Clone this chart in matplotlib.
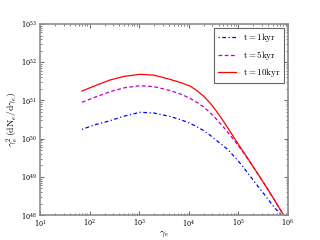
import matplotlib
matplotlib.use("Agg")
import matplotlib.pyplot as plt
import numpy as np

plt.rcParams['mathtext.fontset'] = 'cm'
plt.rcParams['font.family'] = 'serif'
plt.rcParams['font.serif'] = ['DejaVu Serif']

# log10(gamma_e) sample points
lg = [1.847, 2.1, 2.411, 2.7, 3.016, 3.3, 3.62, 3.85, 4.024, 4.15, 4.292, 4.43, 4.55,
      4.68, 4.796, 4.93, 5.067, 5.23, 5.401, 5.57, 5.738, 5.919]

# log10(gamma^2 dN/dgamma) for each age
lv_1kyr = [50.243, 50.36, 50.469, 50.59, 50.689, 50.67, 50.58, 50.49, 50.401, 50.32, 50.215, 50.09, 49.96,
           49.83, 49.702, 49.51, 49.309, 49.03, 48.741, 48.46, 48.175, 47.95]
lv_5kyr = [50.950, 51.08, 51.228, 51.33, 51.385, 51.36, 51.26, 51.16, 51.055, 50.96, 50.835, 50.68, 50.52,
           50.33, 50.15, 49.93, 49.70, 49.39, 49.06, 48.72, 48.37, 47.98]
lv_10kyr = [51.246, 51.38, 51.534, 51.63, 51.683, 51.66, 51.552, 51.46, 51.377, 51.27, 51.12, 50.93, 50.73,
            50.49, 50.26, 49.99, 49.72, 49.40, 49.06, 48.72, 48.37, 47.98]

labels = [r'$\mathrm{t=1kyr}$', r'$\mathrm{t=5kyr}$', r'$\mathrm{t=10kyr}$']

fig = plt.figure(figsize=(3.2, 2.4), dpi=100)
ax = fig.add_axes([0.125, 0.104, 0.775, 0.796])

g = 10**np.array(lg)
ax.plot(g, 10**np.array(lv_1kyr), color='b', ls=(0, (1, 2, 3, 2)), lw=0.9, label=labels[0])
ax.plot(g, 10**np.array(lv_5kyr), color='m', ls=(0, (3, 2)), lw=0.9, label=labels[1])
ax.plot(g, 10**np.array(lv_10kyr), color='r', ls='-', lw=0.9, label=labels[2])

ax.set_xscale('log')
ax.set_yscale('log')
ax.set_xlim(1e1, 1e6)
ax.set_ylim(1e48, 1e53)

for s in ax.spines.values():
    s.set_color('0.55')
    s.set_linewidth(1.2)

ax.tick_params(which='both', direction='in', top=True, right=True, labelsize=4.8, colors='0.3', labelcolor='black')
ax.tick_params(which='major', length=3, width=0.6, pad=2)
ax.tick_params(which='minor', length=1.5, width=0.5)

ax.set_xlabel(r'$\gamma_e$', fontsize=7, labelpad=0.5)
ax.set_ylabel(r'$\gamma_e^2\,(\mathrm{dN}_e/\mathrm{d}\gamma_e)$', fontsize=7, labelpad=1)

leg = ax.legend(loc='upper right', fontsize=6.5, fancybox=False, framealpha=1,
                edgecolor='0.4', handlelength=2.0, borderpad=0.4, labelspacing=0.5,
                borderaxespad=0.4)
leg.get_frame().set_linewidth(0.8)

fig.savefig('out.png', dpi=100)
